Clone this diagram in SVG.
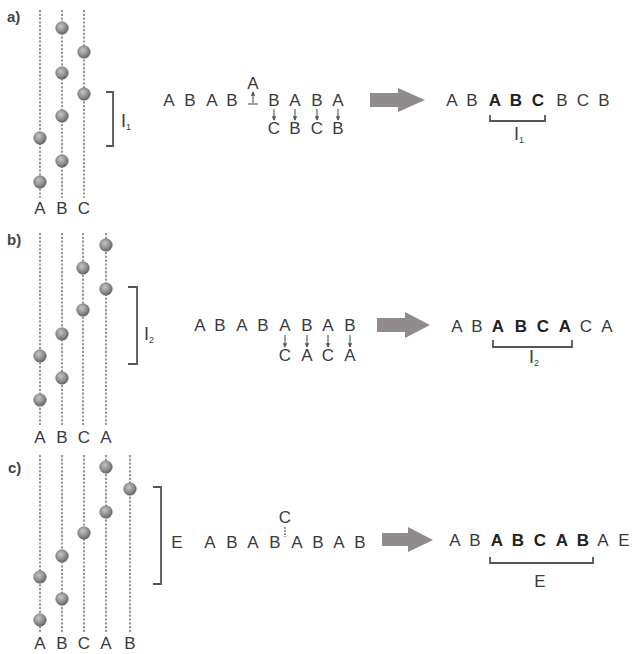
<svg xmlns="http://www.w3.org/2000/svg" width="634" height="654" viewBox="0 0 634 654">
<defs>
<radialGradient id="ballg" cx="0.4" cy="0.35" r="0.7">
<stop offset="0" stop-color="#c4c4c4"/>
<stop offset="0.6" stop-color="#8c8c8c"/>
<stop offset="1" stop-color="#5e5e5e"/>
</radialGradient>
<marker id="ah" viewBox="0 0 6 6" refX="5" refY="3" markerWidth="4" markerHeight="4" orient="auto">
<path d="M0,0 L6,3 L0,6 z" fill="#555"/>
</marker>
<style>
text{font-family:"Liberation Sans",Arial,sans-serif;fill:#3a3a3a;}
.t{font-size:17px;text-anchor:middle;}
.b{font-weight:bold;fill:#222;}
.lbl{font-size:15px;font-weight:bold;fill:#444;}
.strand{stroke:#858585;stroke-width:1.7;stroke-dasharray:2.2 1.6;fill:none;}
.ball{fill:url(#ballg);stroke:#666;stroke-width:0.5;}
.br{stroke:#555;stroke-width:1.8;fill:none;}
.sm{stroke:#555;stroke-width:1.1;fill:none;marker-end:url(#ah);}
.big{fill:#918b8d;}
</style>
</defs>
<rect width="634" height="654" fill="#fff"/>

<g id="panel-a">
<text x="7" y="22" class="lbl">a)</text>
<path class="strand" d="M40 10V198M62 10V198M84 10V198"/>
<circle class="ball" cx="40" cy="138" r="6.3"/><circle class="ball" cx="40" cy="182" r="6.3"/>
<circle class="ball" cx="62" cy="28" r="6.3"/><circle class="ball" cx="62" cy="73" r="6.3"/><circle class="ball" cx="62" cy="116" r="6.3"/><circle class="ball" cx="62" cy="161" r="6.3"/>
<circle class="ball" cx="84" cy="52" r="6.3"/><circle class="ball" cx="84" cy="94" r="6.3"/>
<text class="t" x="40 62 84" y="214">ABC</text>
<path class="br" d="M106 92H113V146H106"/>
<text x="121" y="127" font-size="18">I<tspan font-size="9" dy="3">1</tspan></text>
</g>

<g id="seq-a">
<text class="t" x="169 190 212 232" y="106">ABAB</text>
<text class="t" x="274 295 317 338" y="106">BABA</text>
<text class="t" x="253" y="89">A</text>
<text class="t" x="274 295 317 338" y="134">CBCB</text>
</g>

<g id="result-a">
<text class="t" x="452 472" y="106">AB</text>
<text class="t b" x="495 516 538" y="106">ABC</text>
<text class="t" x="562 583 604" y="106">BCB</text>
<path class="br" d="M490 115V121H545V115"/>
<text x="514" y="140" font-size="18">I<tspan font-size="9" dy="3">1</tspan></text>
</g>

<g id="panel-b">
<text x="7" y="245" class="lbl">b)</text>
<path class="strand" d="M40 233V425M62 233V425M83 233V425M106 233V425"/>
<circle class="ball" cx="40" cy="356" r="6.3"/><circle class="ball" cx="40" cy="400" r="6.3"/>
<circle class="ball" cx="62" cy="334" r="6.3"/><circle class="ball" cx="62" cy="378" r="6.3"/>
<circle class="ball" cx="83" cy="268" r="6.3"/><circle class="ball" cx="83" cy="310" r="6.3"/>
<circle class="ball" cx="106" cy="245" r="6.3"/><circle class="ball" cx="106" cy="289" r="6.3"/>
<text class="t" x="40 62 84 106" y="443">ABCA</text>
<path class="br" d="M128 287H137V364H128"/>
<text x="144" y="340" font-size="18">I<tspan font-size="9" dy="3">2</tspan></text>
</g>

<g id="seq-b">
<text class="t" x="200 220 242 263 285 307 328 350" y="331">ABABABAB</text>
<text class="t" x="285 307 328 350" y="361">CACA</text>
</g>

<g id="result-b">
<text class="t" x="457 477" y="332">AB</text>
<text class="t b" x="498 521 543 565" y="332">ABCA</text>
<text class="t" x="586 607" y="332">CA</text>
<path class="br" d="M493 340V347H572V340"/>
<text x="529" y="363" font-size="18">I<tspan font-size="9" dy="3">2</tspan></text>
</g>

<g id="panel-c">
<text x="8" y="473" class="lbl">c)</text>
<path class="strand" d="M40 455V632M62 455V632M84 455V632M106 455V632M130 455V632"/>
<circle class="ball" cx="40" cy="577" r="6.3"/><circle class="ball" cx="40" cy="620" r="6.3"/>
<circle class="ball" cx="62" cy="556" r="6.3"/><circle class="ball" cx="62" cy="599" r="6.3"/>
<circle class="ball" cx="84" cy="533" r="6.3"/>
<circle class="ball" cx="106" cy="467" r="6.3"/><circle class="ball" cx="106" cy="512" r="6.3"/>
<circle class="ball" cx="130" cy="489" r="6.3"/>
<text class="t" x="40 62 84 106 130" y="649">ABCAB</text>
<path class="br" d="M153 487H161V584H153"/>
<text class="t" x="177" y="548">E</text>
</g>

<g id="seq-c">
<text class="t" x="210 232 253 275 297 318 339 360" y="548">ABABABAB</text>
<text class="t" x="285" y="523">C</text>
</g>

<g id="result-c">
<text class="t" x="455 475" y="546">AB</text>
<text class="t b" x="497 518 540 562 583" y="546">ABCAB</text>
<text class="t" x="603 624" y="546">AE</text>
<path class="br" d="M490 557V563H593V557"/>
<text class="t" x="540" y="587">E</text>
</g>

<g id="connectors">
<path class="big" d="M370 93H398V88L425 100L398 112V107H370Z"/>
<path class="big" d="M377 318H405V312L430 325L405 338V332H377Z"/>
<path class="big" d="M382 533H408V527L433 540L408 552V546H382Z"/>
<path d="M248 104H258" stroke="#555" stroke-width="1.1"/>
<path class="sm" d="M253 103V92"/>
<path class="sm" d="M274 109V120"/>
<path class="sm" d="M295 109V120"/>
<path class="sm" d="M317 109V120"/>
<path class="sm" d="M338 109V120"/>
<path class="sm" d="M285 335V347"/>
<path class="sm" d="M307 335V347"/>
<path class="sm" d="M328 335V347"/>
<path class="sm" d="M350 335V347"/>
<path d="M285 527V537" stroke="#555" stroke-width="1.1" stroke-dasharray="2 1"/>
</g>
</svg>
